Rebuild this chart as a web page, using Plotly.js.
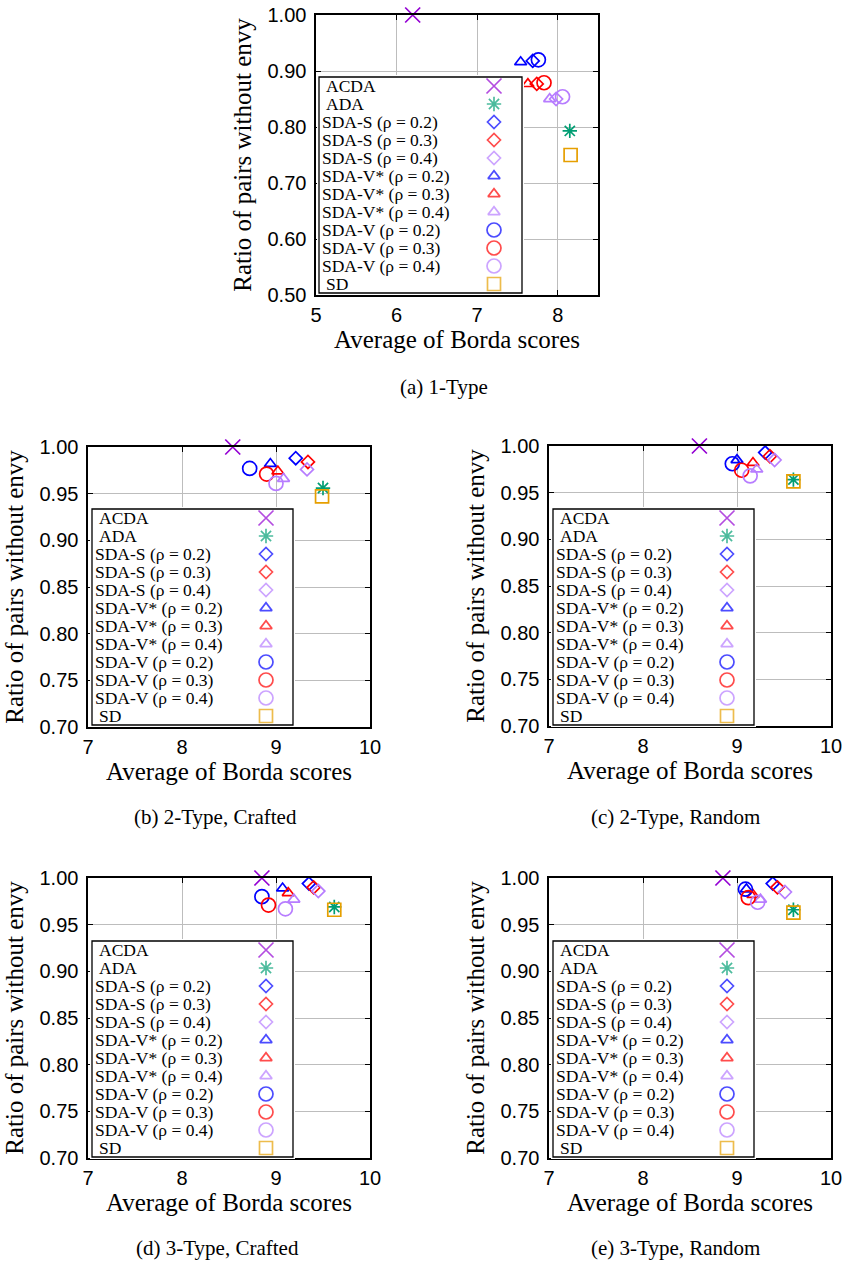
<!DOCTYPE html>
<html>
<head>
<meta charset="utf-8">
<script src="https://cdn.plot.ly/plotly-3.0.1.min.js"></script>
<style>html,body{margin:0;padding:0;background:#fff;}#chart{width:844px;height:1261px;}</style>
</head>
<body>
<div id="chart"></div>
<script>
// ---------------- DATA ----------------
const seriesNames = ['ACDA','ADA','SDA-S (ρ = 0.2)','SDA-S (ρ = 0.3)','SDA-S (ρ = 0.4)',
  'SDA-V* (ρ = 0.2)','SDA-V* (ρ = 0.3)','SDA-V* (ρ = 0.4)',
  'SDA-V (ρ = 0.2)','SDA-V (ρ = 0.3)','SDA-V (ρ = 0.4)','SD'];

// (a) 1-Type
const borda1Type      = [6.20, 8.15, 7.69, 7.74, 7.98, 7.54, 7.63, 7.90, 7.76, 7.83, 8.06, 8.16];
const envyFree1Type   = [1.000,0.793,0.918,0.877,0.850,0.916,0.877,0.850,0.920,0.879,0.854,0.750];
// (b) 2-Type, Crafted
const borda2Crafted    = [8.54, 9.50, 9.21, 9.34, 9.33, 8.94, 9.02, 9.08, 8.72, 8.90, 9.00, 9.49];
const envyFree2Crafted = [1.000,0.956,0.988,0.984,0.976,0.982,0.974,0.966,0.977,0.971,0.961,0.947];
// (c) 2-Type, Random
const borda2Random     = [8.60, 9.60, 9.30, 9.35, 9.40, 9.00, 9.17, 9.21, 8.95, 9.05, 9.14, 9.60];
const envyFree2Random  = [1.000,0.964,0.993,0.989,0.985,0.985,0.982,0.975,0.981,0.974,0.968,0.962];
// (d) 3-Type, Crafted
const borda3Crafted    = [8.85, 9.62, 9.35, 9.40, 9.45, 9.07, 9.13, 9.19, 8.85, 8.92, 9.10, 9.62];
const envyFree3Crafted = [1.000,0.969,0.994,0.990,0.986,0.989,0.984,0.977,0.980,0.971,0.967,0.966];
// (e) 3-Type, Random
const borda3Random     = [8.85, 9.60, 9.38, 9.43, 9.51, 9.10, 9.17, 9.25, 9.09, 9.12, 9.22, 9.60];
const envyFree3Random  = [1.000,0.966,0.994,0.990,0.985,0.988,0.982,0.977,0.988,0.979,0.974,0.963];

const captions = ['(a) 1-Type','(b) 2-Type, Crafted','(c) 2-Type, Random','(d) 3-Type, Crafted','(e) 3-Type, Random'];
const xTitleText = 'Average of Borda scores';
const yTitleText = 'Ratio of pairs without envy';

// ---------------- STYLES ----------------
const PURPLE='#9400d3', GREEN='#009e73', BLUE='#0000ff', RED='#ff0000', LILAC='#b77dff', ORANGE='#e69f00';
const seriesColors  = [PURPLE, GREEN, BLUE, RED, LILAC, BLUE, RED, LILAC, BLUE, RED, LILAC, ORANGE];
const seriesSymbols = ['x-thin-open','asterisk-open','diamond-open','diamond-open','diamond-open',
  'triangle-up-open','triangle-up-open','triangle-up-open','circle-open','circle-open','circle-open','square-open'];
const seriesSizes   = [15, 12, 10, 10, 10, 10.5, 10.5, 10.5, 14, 14, 14, 13];
const legendTextIndent = [5, 5, 1, 1, 1, 1, 1, 1, 1, 1, 1, 5];

const W = 844, H = 1261;
const fx = px => px / W;
const fy = py => 1 - py / H;

const panels = [
  {xs: borda1Type,    ys: envyFree1Type,    box:[316,15,598,295],  xr:[5,8.5], xt:[5,6,7,8],   yr:[0.5,1.0], dy:0.1,
   leg:{l:319,t:77,w:203,h:216,mx:175}, cap:[444,387]},
  {xs: borda2Crafted, ys: envyFree2Crafted, box:[88,447,370,727],  xr:[7,10],  xt:[7,8,9,10],  yr:[0.7,1.0], dy:0.05,
   leg:{l:92,t:509,w:201,h:216,mx:174}, cap:[215,817]},
  {xs: borda2Random,  ys: envyFree2Random,  box:[549,446,831,726], xr:[7,10],  xt:[7,8,9,10],  yr:[0.7,1.0], dy:0.05,
   leg:{l:553,t:509,w:201,h:216,mx:174}, cap:[675,817]},
  {xs: borda3Crafted, ys: envyFree3Crafted, box:[88,878,370,1158], xr:[7,10],  xt:[7,8,9,10],  yr:[0.7,1.0], dy:0.05,
   leg:{l:92,t:941,w:201,h:216,mx:174}, cap:[217,1248]},
  {xs: borda3Random,  ys: envyFree3Random,  box:[549,878,831,1158], xr:[7,10], xt:[7,8,9,10],  yr:[0.7,1.0], dy:0.05,
   leg:{l:553,t:941,w:201,h:216,mx:174}, cap:[675,1248]}
];

const SANS = 'Liberation Sans, Arial, sans-serif';
const SERIF = 'Liberation Serif, Times New Roman, serif';

const traces = [];
const layout = {
  width: W, height: H, autosize: false,
  margin: {l:0, r:0, t:0, b:0, pad:0},
  paper_bgcolor: '#ffffff', plot_bgcolor: '#ffffff',
  showlegend: false,
  annotations: [], shapes: []
};

panels.forEach((p, i) => {
  const n = i + 1;
  const xk = n === 1 ? 'xaxis' : 'xaxis' + n;
  const yk = n === 1 ? 'yaxis' : 'yaxis' + n;
  const xid = n === 1 ? 'x' : 'x' + n;
  const yid = n === 1 ? 'y' : 'y' + n;
  const [l, t, r, b] = p.box;
  const common = {
    showgrid: true, gridcolor: '#bdbdbd', gridwidth: 1,
    showline: true, linecolor: '#000', linewidth: 1.6, mirror: 'ticks',
    ticks: 'inside', ticklen: 5, tickwidth: 1, tickcolor: '#000',
    zeroline: false, fixedrange: true,
    tickfont: {family: SANS, size: 20, color: '#000'},
    title: {font: {family: SERIF, size: 25, color: '#000'}}
  };
  layout[xk] = Object.assign({}, common, {
    domain: [fx(l), fx(r)], anchor: yid, range: p.xr,
    tickmode: 'array', tickvals: p.xt, ticktext: p.xt.map(String),
    ticklabelstandoff: 1,
    title: {text: xTitleText, font: common.title.font, standoff: 3}
  });
  layout[yk] = Object.assign({}, common, {
    domain: [fy(b), fy(t)], anchor: xid, range: p.yr,
    tickmode: 'linear', tick0: p.yr[0], dtick: p.dy, tickformat: '.2f',
    ticklabelstandoff: 4,
    title: {text: yTitleText, font: common.title.font, standoff: 9}
  });

  // data traces
  seriesNames.forEach((name, k) => {
    traces.push({
      type: 'scatter', mode: 'markers', name: name,
      x: [p.xs[k]], y: [p.ys[k]], xaxis: xid, yaxis: yid,
      cliponaxis: false,
      marker: {symbol: seriesSymbols[k], size: seriesSizes[k], color: seriesColors[k],
               line: {color: seriesColors[k], width: 1.7}},
      hoverinfo: 'name+x+y'
    });
  });

  // custom legend (text left, symbol right) on its own invisible axes
  const lg = p.leg;
  const ln = n + 5;
  const lxk = 'xaxis' + ln, lyk = 'yaxis' + ln, lxid = 'x' + ln, lyid = 'y' + ln;
  const pad = 2;
  layout[lxk] = {domain: [fx(lg.l - pad), fx(lg.l + lg.w + pad)], range: [-pad, lg.w + pad],
                 visible: false, fixedrange: true, anchor: lyid};
  layout[lyk] = {domain: [fy(lg.t + lg.h + pad), fy(lg.t - pad)], range: [lg.h + pad, -pad],
                 visible: false, fixedrange: true, anchor: lxid};
  layout.shapes.push({type: 'rect', xref: lxid, yref: lyid, x0: 0, x1: lg.w, y0: 0, y1: lg.h,
                      fillcolor: '#ffffff', line: {color: '#000', width: 1.3}, layer: 'below'});
  const rowStep = 18;
  const rowY = seriesNames.map((_, k) => 9 + k * rowStep);
  traces.push({
    type: 'scatter', mode: 'markers', xaxis: lxid, yaxis: lyid, hoverinfo: 'skip',
    x: seriesNames.map(() => lg.mx), y: rowY, cliponaxis: false,
    marker: {symbol: seriesSymbols, size: seriesSizes, color: seriesColors,
             line: {color: seriesColors, width: 1.7}}
  });
  seriesNames.forEach((name, k) => {
    layout.annotations.push({xref: lxid, yref: lyid, x: legendTextIndent[k], y: rowY[k],
      xanchor: 'left', yanchor: 'middle', showarrow: false, text: name,
      font: {family: SERIF, size: 17.5, color: '#000'}});
  });

  // caption
  layout.annotations.push({xref: 'paper', yref: 'paper', x: fx(p.cap[0]), y: fy(p.cap[1]),
    xanchor: 'center', yanchor: 'middle', showarrow: false, text: captions[i],
    font: {family: SERIF, size: 21, color: '#000'}});
});

Plotly.newPlot('chart', traces, layout, {staticPlot: true, displayModeBar: false});
</script>
</body>
</html>
